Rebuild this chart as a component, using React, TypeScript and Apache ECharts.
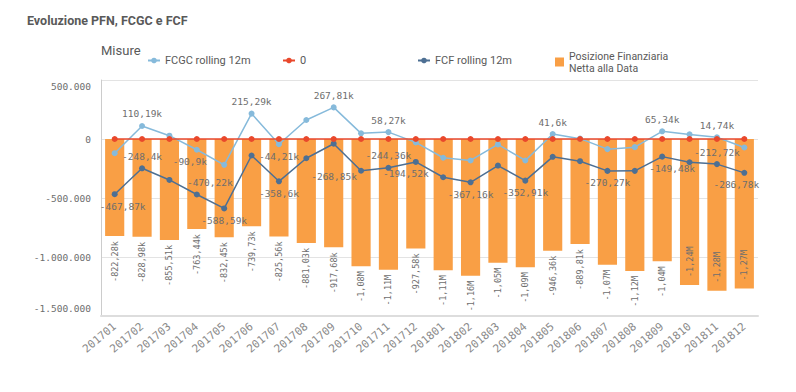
import React, { useEffect, useRef } from "react";
import * as echarts from "echarts";

const categories = [
  "201701", "201702", "201703", "201704", "201705", "201706", "201707", "201708", "201709", "201710", "201711", "201712",
  "201801", "201802", "201803", "201804", "201805", "201806", "201807", "201808", "201809", "201810", "201811", "201812",
];

const pfn = [
  -822280, -828980, -855510, -763440, -832450, -739730, -825560, -881030, -917680, -1078000, -1108000, -927580,
  -1112000, -1158000, -1048000, -1086000, -946360, -889810, -1066000, -1118000, -1036000, -1238000, -1285000, -1268000,
];

const fcgc = [
  -120000, 110190, 28000, -90900, -219000, 215290, -44210, 161000, 267810, 48000, 58270, -29000,
  -159000, -182000, -46000, -182000, 41600, 3000, -86000, -69000, 65340, 39000, 14740, -72000,
];

const fcf = [
  -467870, -248400, -347000, -470220, -588590, -140000, -358600, -163000, -40000, -268850, -244360, -194520,
  -324000, -367160, -225000, -352910, -151000, -188000, -270270, -270000, -149480, -197000, -212720, -286780,
];

const zero = [0, 0, 0, 0, 0, 0, 0, 0, 0, 0, 0, 0, 0, 0, 0, 0, 0, 0, 0, 0, 0, 0, 0, 0];

const yTicks = [500000, 0, -500000, -1000000, -1500000];

const NAME_FCGC = "FCGC rolling 12m";
const NAME_ZERO = "0";
const NAME_FCF = "FCF rolling 12m";
const NAME_PFN = "Posizione Finanziaria Netta alla Data";

const C_ORANGE = "#F99F45";
const C_LBLUE = "#86BADB";
const C_DBLUE = "#4D6F93";
const C_RED = "#E9482C";
const MONO = "DejaVu Sans Mono";
const SANS = "Roboto";

function fmtK(v: number): string {
  const s = (v / 1000).toFixed(2).replace(/\.?0+$/, "");
  return s.replace(".", ",") + "k";
}
function fmtBar(v: number): string {
  if (Math.abs(v) >= 1e6) return (v / 1e6).toFixed(2).replace(".", ",") + "M";
  return fmtK(v);
}
function fmtAxis(v: number): string {
  const s = String(Math.abs(v)).replace(/\B(?=(\d{3})+(?!\d))/g, ".");
  return (v < 0 ? "-" : "") + s;
}

const fcgcLabels: Record<number, any> = {
  1: { position: "top" },
  3: { position: "bottom", offset: [-7, 0] },
  5: { position: "top" },
  6: { position: "bottom" },
  8: { position: "top" },
  10: { position: "top" },
  16: { position: "top" },
  20: { position: "top" },
  22: { position: "top" },
};
const fcfLabels: Record<number, any> = {
  0: { position: "bottom", offset: [8, 0] },
  1: { position: "top" },
  3: { position: "top", offset: [13, 0] },
  4: { position: "bottom" },
  6: { position: "bottom" },
  9: { position: "bottom", offset: [-27, -6] },
  10: { position: "top" },
  11: { position: "bottom", offset: [-10, 0] },
  13: { position: "bottom" },
  15: { position: "bottom" },
  18: { position: "bottom" },
  20: { position: "bottom", offset: [10, 0] },
  22: { position: "top" },
  23: { position: "bottom", offset: [-8, 0] },
};
const insideBarIdx = [21, 22, 23];

const lineLabelStyle = {
  show: true,
  distance: 4,
  fontFamily: MONO,
  fontSize: 9.5,
  color: "#6e6e6e",
  formatter: (p: any) => fmtK(p.value),
};

function lineData(values: number[], labels: Record<number, any>) {
  return values.map((v, i) =>
    labels[i] ? { value: v, label: { ...lineLabelStyle, ...labels[i] } } : { value: v }
  );
}

export default function App() {
  const ref = useRef<HTMLDivElement>(null);

  useEffect(() => {
    if (!ref.current) return;
    const chart = echarts.init(ref.current, undefined, { renderer: "svg" });

    const barData = pfn.map((v, i) =>
      insideBarIdx.includes(i)
        ? {
            value: v,
            label: { position: "insideBottom", align: "left", verticalAlign: "middle", distance: 8 },
          }
        : { value: v }
    );

    const legendBase = {
      orient: "horizontal",
      itemWidth: 12,
      itemHeight: 7,
      textStyle: { fontFamily: SANS, fontSize: 11, color: "#595959" },
      selectedMode: false,
    };

    chart.setOption({
      animation: false,
      backgroundColor: "#ffffff",
      title: [
        {
          text: "Evoluzione PFN, FCGC e FCF",
          left: 27,
          top: 14,
          padding: 0,
          textStyle: { fontFamily: SANS, fontSize: 12.5, fontWeight: "bold", color: "#595959" },
        },
        {
          text: "Misure",
          left: 101,
          top: 44,
          padding: 0,
          textStyle: { fontFamily: SANS, fontSize: 13, fontWeight: "normal", color: "#595959" },
        },
      ],
      legend: [
        { ...legendBase, data: [NAME_FCGC], left: 147, top: 55, padding: 0 },
        { ...legendBase, data: [NAME_ZERO], left: 282, top: 55, padding: 0 },
        { ...legendBase, data: [NAME_FCF], left: 417, top: 55, padding: 0 },
        {
          ...legendBase,
          data: [{ name: NAME_PFN, icon: "rect" }],
          left: 555,
          top: 50,
          padding: 0,
          itemWidth: 9,
          itemHeight: 9,
          formatter: () => "Posizione Finanziaria\nNetta alla Data",
          textStyle: { fontFamily: SANS, fontSize: 10.5, color: "#595959", lineHeight: 12 },
        },
      ],
      grid: { left: 101, right: 38, top: 80, bottom: 76, containLabel: false },
      xAxis: {
        type: "category",
        data: categories,
        boundaryGap: true,
        axisLine: { show: true, onZero: false, lineStyle: { color: "#dddddd", width: 2 } },
        axisTick: { show: false },
        axisLabel: {
          rotate: 40,
          margin: 9,
          interval: 0,
          fontFamily: MONO,
          fontSize: 11,
          color: "#8a8a8a",
        },
      },
      yAxis: {
        type: "value",
        min: -1500000,
        max: 500000,
        interval: 500000,
        axisLine: { show: true, lineStyle: { color: "#cccccc", width: 1 } },
        axisTick: { show: false },
        splitLine: { show: true, lineStyle: { color: "#e3e3e3", width: 1 } },
        axisLabel: {
          margin: 10,
          fontFamily: MONO,
          fontSize: 9.5,
          color: "#6e6e6e",
          formatter: (v: number) => {
            const s = fmtAxis(v);
            if (v === yTicks[0]) return "{t|" + s + "}";
            if (v === yTicks[yTicks.length - 1]) return "{b|" + s + "}";
            return s;
          },
          rich: {
            t: { fontFamily: MONO, fontSize: 9.5, color: "#6e6e6e", padding: [12, 0, 0, 0] },
            b: { fontFamily: MONO, fontSize: 9.5, color: "#6e6e6e", padding: [0, 0, 16, 0] },
          },
        },
      },
      series: [
        {
          name: NAME_PFN,
          type: "bar",
          data: barData,
          barCategoryGap: "30%",
          itemStyle: { color: C_ORANGE },
          label: {
            show: true,
            position: "bottom",
            distance: 5,
            rotate: 90,
            align: "right",
            verticalAlign: "middle",
            fontFamily: MONO,
            fontSize: 8.5,
            color: "#6e6e6e",
            formatter: (p: any) => fmtBar(p.value),
          },
          z: 1,
        },
        {
          name: NAME_FCGC,
          type: "line",
          data: lineData(fcgc, fcgcLabels),
          symbol: "circle",
          symbolSize: 6,
          lineStyle: { color: C_LBLUE, width: 1.5 },
          itemStyle: { color: C_LBLUE },
          z: 3,
        },
        {
          name: NAME_FCF,
          type: "line",
          data: lineData(fcf, fcfLabels),
          symbol: "circle",
          symbolSize: 6,
          lineStyle: { color: C_DBLUE, width: 1.5 },
          itemStyle: { color: C_DBLUE },
          z: 4,
        },
        {
          name: NAME_ZERO,
          type: "line",
          data: zero,
          symbol: "circle",
          symbolSize: 6,
          lineStyle: { color: C_RED, width: 1.5 },
          itemStyle: { color: C_RED },
          z: 5,
        },
      ],
    });

    return () => chart.dispose();
  }, []);

  return (
    <div
      ref={ref}
      style={{ position: "absolute", left: 0, top: 0, width: 796, height: 392 }}
    />
  );
}
